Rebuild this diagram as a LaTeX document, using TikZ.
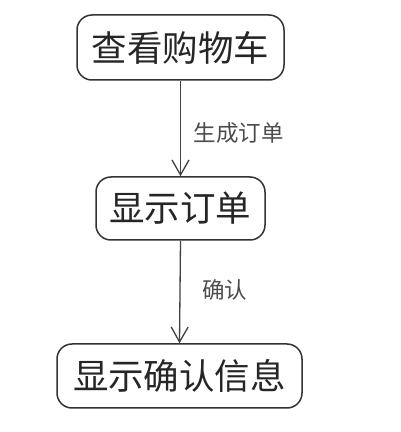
\documentclass[tikz,border=0pt]{standalone}
\usepackage{fontspec}
\newfontfamily\cjk{Noto Sans CJK SC}
\usetikzlibrary{arrows.meta}
\begin{document}
\begin{tikzpicture}[x=1pt,y=1pt,
  box/.style={draw=black!80,line width=1.5pt,rounded corners=15pt,inner sep=0pt,
    font=\cjk\fontsize{35.5}{38}\selectfont,text=black!85},
  lbl/.style={font=\cjk\fontsize{22.5}{25}\selectfont,text=black!70,inner sep=0pt},
  conn/.style={draw=black!75,line width=1.3pt,-{Straight Barb[length=15pt,width=17pt,line width=1.3pt]}}]
\useasboundingbox (0,0) rectangle (401,432);
\node[box,minimum width=207pt,minimum height=65pt] (a) at (180.5,384.5) {查看购物车};
\node[box,minimum width=169pt,minimum height=63pt] (b) at (180.5,223.5) {显示订单};
\node[box,minimum width=245pt,minimum height=64pt] (c) at (179.5,56) {显示确认信息};
\draw[conn] (a.south) -- (b.north);
\draw[conn] (b.south) -- (c.north);
\node[lbl] (l1) at (238.5,299) {生成订单};
\node[lbl] (l2) at (224.5,142) {确认};
\end{tikzpicture}
\end{document}
